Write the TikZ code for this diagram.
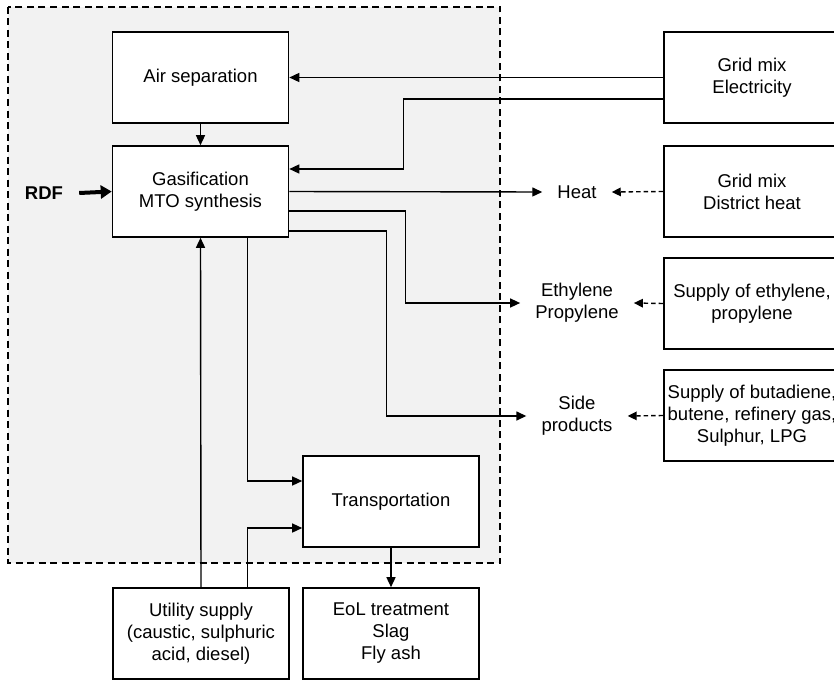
\documentclass[tikz,border=0pt]{standalone}
\usepackage{fontspec}
\setmainfont{Liberation Sans}
\usetikzlibrary{arrows.meta}
\definecolor{zonefill}{HTML}{F2F2F2}
\begin{document}
\begin{tikzpicture}[x=1pt,y=-1pt,
  every node/.style={font=\fontsize{18.5}{22}\selectfont, align=center},
  box/.style={draw, line width=1.6pt, fill=white, minimum width=176pt, minimum height=91pt, inner sep=2pt},
  lbl/.style={inner xsep=15pt, inner ysep=2pt},
  arr/.style={line width=1.4pt, -{Triangle[length=10pt,width=9pt]}},
  darr/.style={line width=1.4pt, dash pattern=on 4.5pt off 3pt, -{Triangle[length=9pt,width=8.5pt]}},
  zone/.style={draw, fill=zonefill, line width=1.8pt, dash pattern=on 7pt off 4.5pt}
]
\useasboundingbox (0,0) rectangle (834,682);
\begin{scope}
\clip (0,0) rectangle (834,682);

% system boundary
\draw[zone] (8,7) rectangle (500,563);

% process boxes
\node[box] (air)   at (200.5,77.5)  {Air separation};
\node[box] (gas)   at (200.5,191.5) {Gasification\\MTO synthesis};
\node[box] (trans) at (391,501.5)   {Transportation};
\node[box] (util)  at (201,633.5)   {Utility supply\\(caustic, sulphuric\\acid, diesel)};
\node[box] (eol)   at (391,633.5)   {EoL treatment\\Slag\\Fly ash};

% background supply boxes
\node[box] (elec)  at (752,77.5)  {Grid mix\\Electricity};
\node[box] (dheat) at (752,191.5) {Grid mix\\District heat};
\node[box] (ethsup) at (752,303.5) {Supply of ethylene,\\propylene};
\node[box] (butsup) at (752,415.5) {Supply of butadiene,\\butene, refinery gas,\\Sulphur, LPG};

% product and input labels
\node[lbl] (heat) at (577,192) {Heat};
\node[lbl] (eth)  at (577,303) {Ethylene\\Propylene};
\node[lbl] (side) at (577,416) {Side\\products};
\node[inner xsep=16pt] (rdf) at (44,193) {\bfseries RDF};

% flows inside the system
\draw[arr] (air.south) -- (gas.north);
\draw[line width=4pt, -{Triangle[length=11pt,width=13pt]}] (rdf.east) -- (gas.west);
\draw[arr] (elec.west) -- (air.east);
\draw[arr] ([yshift=-21.5pt]elec.west) -- ++(-260,0) |- ([yshift=22.5pt]gas.east);
\draw[arr] (gas.east) -- (heat.west);
\draw[arr] ([yshift=-19.5pt]gas.east) -- ++(116,0) |- (eth.west);
\draw[arr] ([yshift=-39.5pt]gas.east) -- ++(97,0) |- (side.west);
\draw[arr] ([xshift=47pt]gas.south) |- ([yshift=20.5pt]trans.west);
\draw[arr] (util.north) -- (gas.south);
\draw[arr] ([xshift=46.5pt]util.north) |- ([yshift=-26.5pt]trans.west);
\draw[arr] (trans.south) -- (eol.north);

% avoided products
\draw[darr] (dheat.west) -- (heat.east);
\draw[darr] (ethsup.west) -- (eth.east);
\draw[darr] (butsup.west) -- (side.east);
\end{scope}
\end{tikzpicture}
\end{document}
